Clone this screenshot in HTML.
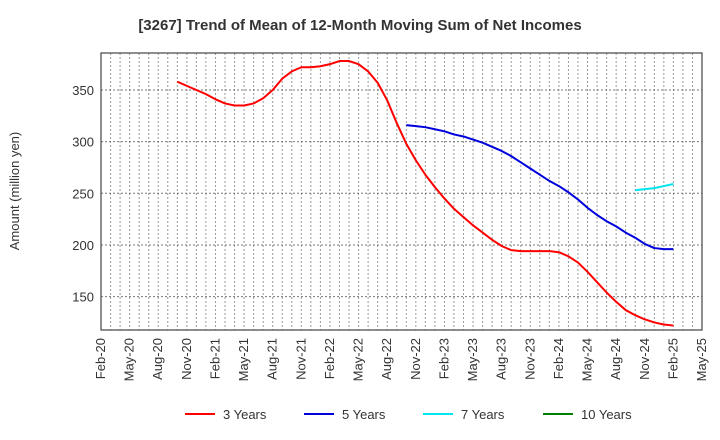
<!DOCTYPE html>
<html><head><meta charset="utf-8"><style>
body{margin:0;background:#fff;font-family:"Liberation Sans",Arial,sans-serif}
svg{display:block}
</style></head><body>
<svg width="720" height="440" xmlns="http://www.w3.org/2000/svg">
<text x="360" y="30" text-anchor="middle" font-size="15" font-weight="bold" fill="#333">[3267]  Trend of Mean of 12-Month Moving Sum of Net Incomes</text>
<g id="grid"></g>
<g id="axes"></g>
<g id="series"></g>
<text transform="translate(19,191) rotate(-90)" text-anchor="middle" font-size="13" fill="#333">Amount (million yen)</text>
<g id="legend"></g>
</svg>
<script>
const xTickLabels=["Feb-20","May-20","Aug-20","Nov-20","Feb-21","May-21","Aug-21","Nov-21","Feb-22","May-22","Aug-22","Nov-22","Feb-23","May-23","Aug-23","Nov-23","Feb-24","May-24","Aug-24","Nov-24","Feb-25","May-25"];
const yTicks=[150,200,250,300,350];
const series3Start=8;
const series3=[358,354,350,346,341,337,335,335,337,342,350,361,368,372,372,373,375,378,378,375,368,357,340,318,298,282,268,256,245,235,227,219,212,205,199,195,194,194,194,194,193,189,183,174,164,154,145,137,132,128,125,123,122];
const series5Start=32;
const series5=[316,315,314,312,310,307,305,302,299,295,291,286,280,274,268,262,257,251,244,236,229,223,218,212,207,201,197,196,196];
const series7Start=56;
const series7=[253,254,255,257,259];
const series10=[];
const L=101,R=702,T=53,B=330,M=63,YMIN=117.7,YMAX=385.8;
const xs=m=>L+(R-L)*m/M;
const ys=v=>B-(B-T)*(v-YMIN)/(YMAX-YMIN);
const NS="http://www.w3.org/2000/svg";
function mk(tag,attrs,parent){const e=document.createElementNS(NS,tag);for(const k in attrs)e.setAttribute(k,attrs[k]);parent.appendChild(e);return e;}
const grid=document.getElementById('grid'),axes=document.getElementById('axes'),ser=document.getElementById('series'),leg=document.getElementById('legend');
for(let m=1;m<M;m++){const l=mk('line',{x1:xs(m),x2:xs(m),y1:T,y2:B,stroke:'#999','stroke-width':1,'stroke-dasharray':'2,2'},grid);

}
yTicks.forEach(v=>{const l=mk('line',{x1:L,x2:R,y1:ys(v),y2:ys(v),stroke:'#777','stroke-width':1,'stroke-dasharray':'2,2'},grid);


const t=mk('text',{x:L-7,y:ys(v)+5,'text-anchor':'end','font-size':13,fill:'#333'},axes);t.textContent=v;

});
const fr=mk('rect',{x:L,y:T,width:R-L,height:B-T,fill:'none',stroke:'#444','stroke-width':1.2},axes);


xTickLabels.forEach((s,i)=>{const x=xs(i*3);const t=mk('text',{transform:`translate(${x+4},${B+8}) rotate(-90)`,'text-anchor':'end','font-size':13,fill:'#333'},axes);t.textContent=s;

});
function line(data,start,color,name){if(!data.length)return;const p=mk('polyline',{points:data.map((v,i)=>xs(start+i)+','+ys(v)).join(' '),fill:'none',stroke:color,'stroke-width':2,'stroke-linejoin':'round'},ser);

}
line(series3,series3Start,'#ff0000','line-3-years');
line(series5,series5Start,'#0000dd','line-5-years');
line(series7,series7Start,'#00e5ee','line-7-years');
line(series10,0,'#008000','line-10-years');
const items=[["3 Years","#ff0000",185],["5 Years","#0000dd",304],["7 Years","#00e5ee",423],["10 Years","#008000",543]];
items.forEach(([n,c,x])=>{const g=mk('g',{},leg);


mk('line',{x1:x,x2:x+30,y1:414,y2:414,stroke:c,'stroke-width':2},g);
const t=mk('text',{x:x+38,y:419,'font-size':13,fill:'#333'},g);t.textContent=n;});
</script>
</body></html>
